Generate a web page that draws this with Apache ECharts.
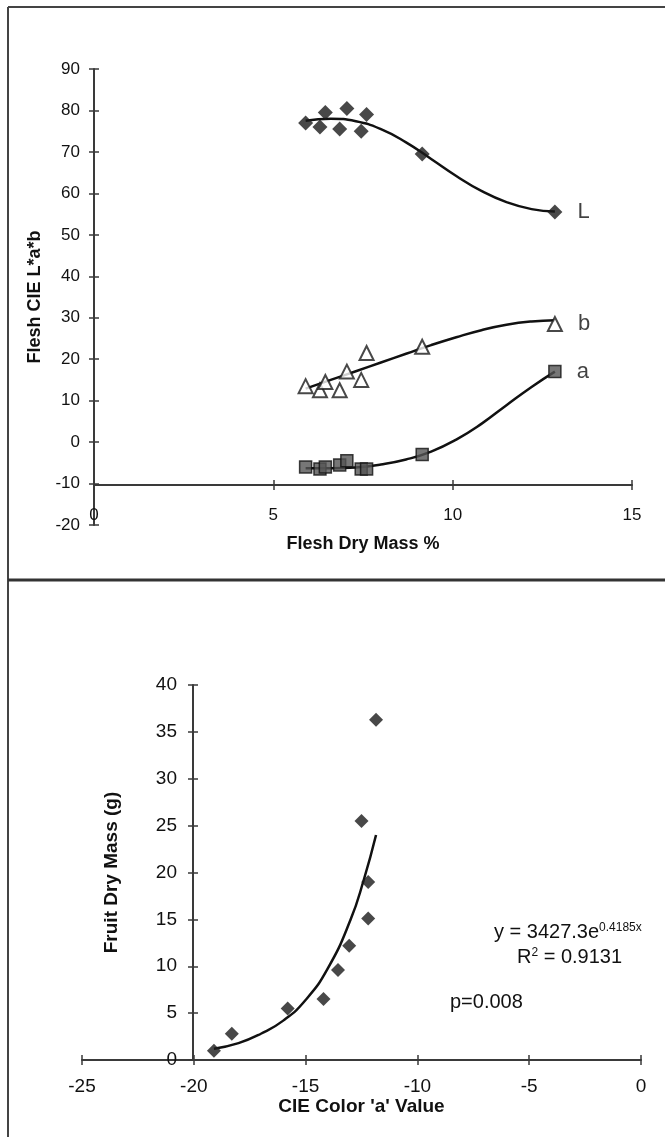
<!DOCTYPE html>
<html>
<head>
<meta charset="utf-8">
<script src="https://cdn.jsdelivr.net/npm/echarts@6/dist/echarts.min.js"></script>
<style>
html,body{margin:0;padding:0;background:#fff;}
#main{width:665px;height:1137px;}
</style>
</head>
<body>
<div id="main"></div>
<script>
// top panel: flesh colour (L*, a*, b*) against flesh dry mass %
var dryMass = [5.9, 6.3, 6.45, 6.85, 7.05, 7.45, 7.6, 9.15, 12.85];
var valL = [77, 76, 79.5, 75.5, 80.5, 75, 79, 69.5, 55.5];
var valB = [13.5, 12.5, 14.5, 12.5, 17, 15, 21.5, 23, 28.5];
var valA = [-6, -6.5, -6, -5.5, -4.5, -6.5, -6.5, -3, 17];
// fitted curves
var fitX = [5.9, 6.6, 7.3, 8.0, 8.7, 9.4, 10.1, 10.8, 11.5, 12.2, 12.85];
var fitL = [77.5, 78.0, 77.4, 75.5, 72.3, 68.3, 64.2, 60.6, 57.9, 56.2, 55.6];
var fitB = [12.9, 15.0, 17.1, 19.2, 21.3, 23.4, 25.3, 27.0, 28.3, 29.1, 29.4];
var fitA = [-6.3, -6.3, -6.1, -5.4, -4.2, -2.3, 0.6, 4.4, 8.9, 13.3, 17.0];
var topXTicks = [0, 15, 5];   // min, max, step
var topYTicks = [-20, 90, 10];

// bottom panel: fruit dry mass against CIE a* value
var cieA = [-19.1, -18.3, -15.8, -14.2, -13.55, -13.05, -12.5, -12.2, -12.2, -11.85];
var fruitMass = [1.0, 2.8, 5.5, 6.5, 9.6, 12.2, 25.5, 19.0, 15.1, 36.3];
var trendX = [-19.1, -18, -17, -16, -15, -14, -13, -12.4, -11.85];
var trendY = [1.2, 1.8, 2.8, 4.2, 6.4, 9.8, 14.9, 19.2, 24.0];
var botXTicks = [-25, 0, 5];
var botYTicks = [0, 40, 5];

var FONT = 'Liberation Sans, Arial, sans-serif';
var INK = '#111';
var AXIS = '#3a3a3a';

function pairs(xs, ys, tag) {
  return xs.map(function (x, i) {
    var item = { value: [x, ys[i]] };
    if (tag && i === xs.length - 1) {
      item.label = { show: true, formatter: tag, position: 'right', distance: 15,
        fontSize: 22, color: INK, fontFamily: FONT };
    }
    return item;
  });
}

function valueAxis(grid, t, size, extra) {
  var ax = {
    gridIndex: grid, type: 'value', min: t[0], max: t[1], interval: t[2],
    splitLine: { show: false },
    axisLine: { show: true, onZero: false, lineStyle: { color: AXIS, width: 2 } },
    axisTick: { show: true, length: 5, lineStyle: { color: AXIS, width: 1.5 } },
    axisLabel: { fontSize: size[0], color: INK, fontFamily: FONT },
    nameTextStyle: { fontSize: size[1], fontWeight: 'bold', color: INK, fontFamily: FONT },
    nameLocation: 'middle'
  };
  for (var k in extra) {
    if (k === 'margin') ax.axisLabel.margin = extra[k];
    else ax[k] = extra[k];
  }
  return ax;
}
// a twin axis that only adds the inner half of the crossing ticks
function innerTicks(grid, t, extra) {
  var ax = {
    gridIndex: grid, type: 'value', min: t[0], max: t[1], interval: t[2],
    splitLine: { show: false }, axisLine: { show: false, onZero: false },
    axisLabel: { show: false },
    axisTick: { show: true, inside: true, length: 5, lineStyle: { color: AXIS, width: 1.5 } }
  };
  for (var k in extra) ax[k] = extra[k];
  return ax;
}

var chart = echarts.init(document.getElementById('main'), null, { renderer: 'canvas' });

var curveStyle = { color: INK, width: 2.5 };
var topSize = [17, 18];
var botSize = [19, 19];
var eqRich = {
  n: { fontSize: 20, fontFamily: FONT, fill: INK, lineHeight: 20, verticalAlign: 'bottom' },
  s: { fontSize: 12, fontFamily: FONT, fill: INK, lineHeight: 20, verticalAlign: 'top' }
};

var option = {
  animation: false,
  backgroundColor: '#fff',
  grid: [
    { left: 94, width: 538, top: 69, height: 456 },   // y from -20 to 90
    { left: 94, width: 538, top: 69, height: 416 },   // y from -10 to 90, carries the x axis
    { left: 82, width: 559, top: 685, height: 375 }
  ],
  xAxis: [
    { gridIndex: 0, type: 'value', min: 0, max: 15, show: false },
    valueAxis(1, topXTicks, topSize, { position: 'bottom', name: 'Flesh Dry Mass %', nameGap: 50, margin: 22 }),
    innerTicks(1, topXTicks, { position: 'bottom' }),
    valueAxis(2, botXTicks, botSize, { position: 'bottom', name: "CIE Color 'a' Value", nameGap: 28, margin: 17 }),
    innerTicks(2, botXTicks, { position: 'bottom' })
  ],
  yAxis: [
    valueAxis(0, topYTicks, topSize, { position: 'left', name: 'Flesh CIE L*a*b', nameGap: 50, margin: 14 }),
    innerTicks(0, topYTicks, { position: 'left' }),
    { gridIndex: 1, type: 'value', min: -10, max: 90, show: false },
    valueAxis(2, botYTicks, botSize, { position: 'left', offset: -111, name: 'Fruit Dry Mass (g)', nameGap: 72, margin: 16 }),
    innerTicks(2, botYTicks, { position: 'left', offset: -111 })
  ],
  series: [
    { type: 'line', xAxisIndex: 0, yAxisIndex: 0, data: pairs(fitX, fitL), smooth: true,
      showSymbol: false, lineStyle: curveStyle, z: 1 },
    { type: 'line', xAxisIndex: 0, yAxisIndex: 0, data: pairs(fitX, fitB), smooth: true,
      showSymbol: false, lineStyle: curveStyle, z: 1 },
    { type: 'line', xAxisIndex: 0, yAxisIndex: 0, data: pairs(fitX, fitA), smooth: true,
      showSymbol: false, lineStyle: curveStyle, z: 1 },
    { type: 'scatter', name: 'L', xAxisIndex: 0, yAxisIndex: 0, data: pairs(dryMass, valL, 'L'),
      symbol: 'diamond', symbolSize: 15, itemStyle: { color: '#1a1a1a' }, z: 3 },
    { type: 'scatter', name: 'b', xAxisIndex: 0, yAxisIndex: 0, data: pairs(dryMass, valB, 'b'),
      symbol: 'triangle', symbolSize: 14,
      itemStyle: { color: '#fff', borderColor: '#1a1a1a', borderWidth: 2 }, z: 3 },
    { type: 'scatter', name: 'a', xAxisIndex: 0, yAxisIndex: 0, data: pairs(dryMass, valA, 'a'),
      symbol: 'rect', symbolSize: 12,
      itemStyle: { color: '#555', borderColor: '#111', borderWidth: 1.5 }, z: 3 },

    { type: 'line', xAxisIndex: 3, yAxisIndex: 3, data: pairs(trendX, trendY), smooth: true,
      showSymbol: false, lineStyle: curveStyle, z: 1 },
    { type: 'scatter', xAxisIndex: 3, yAxisIndex: 3, data: pairs(cieA, fruitMass),
      symbol: 'diamond', symbolSize: 14, itemStyle: { color: '#1a1a1a' }, z: 3 }
  ],
  graphic: [
    // page frame and panel divider
    { type: 'line', shape: { x1: 8, y1: 7, x2: 8, y2: 1137 }, style: { stroke: '#444', lineWidth: 2 } },
    { type: 'line', shape: { x1: 8, y1: 7, x2: 665, y2: 7 }, style: { stroke: '#444', lineWidth: 2 } },
    { type: 'line', shape: { x1: 8, y1: 580, x2: 665, y2: 580 }, style: { stroke: '#333', lineWidth: 3 } },
    // trendline annotation
    { type: 'text', left: 494, top: 922, style: { text: '{n|y = 3427.3e}{s|0.4185x}', rich: eqRich } },
    { type: 'text', left: 517, top: 947, style: { text: '{n|R}{s|2}{n| = 0.9131}', rich: eqRich } },
    { type: 'text', left: 450, top: 992, style: { text: 'p=0.008', fontSize: 20, fontFamily: FONT, fill: INK } }
  ]
};

chart.setOption(option);
</script>
</body>
</html>
